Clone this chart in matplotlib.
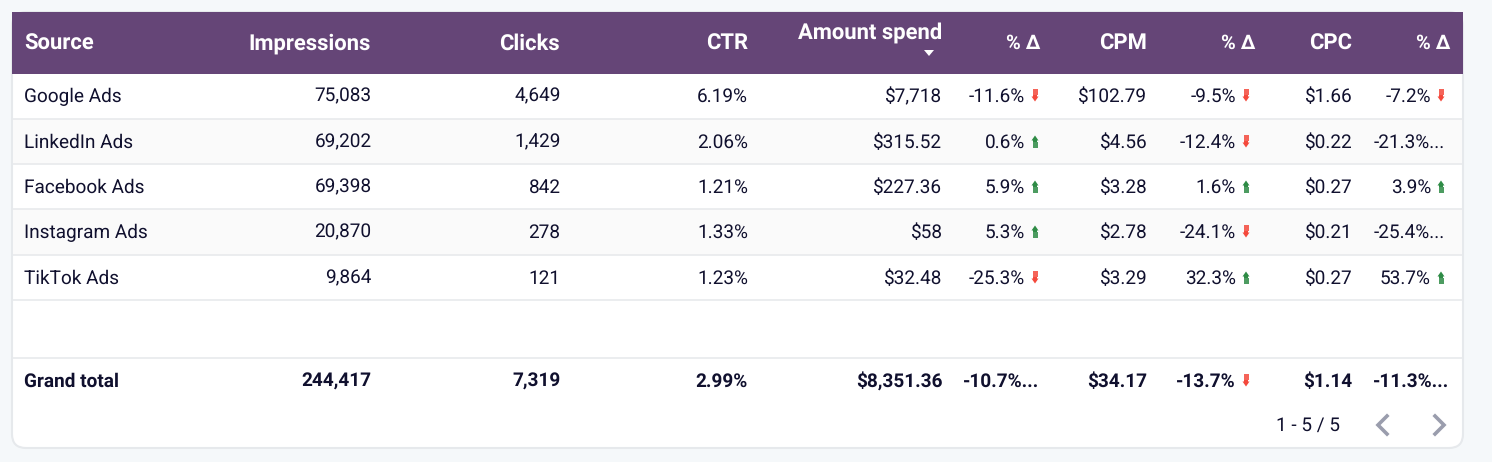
import matplotlib
matplotlib.use("Agg")
import matplotlib.pyplot as plt
from matplotlib.patches import FancyBboxPatch, Rectangle, Polygon

plt.rcParams['font.family'] = ['Roboto', 'DejaVu Sans']
plt.rcParams['text.hinting'] = 'no_hinting'
plt.rcParams['text.hinting_factor'] = 1

# table contents
headers = ["Source", "Impressions", "Clicks", "CTR", "Amount spend", "% Δ", "CPM", "% Δ", "CPC", "% Δ"]
sources = ["Google Ads", "LinkedIn Ads", "Facebook Ads", "Instagram Ads", "TikTok Ads"]
impressions = ["75,083", "69,202", "69,398", "20,870", "9,864"]
clicks = ["4,649", "1,429", "842", "278", "121"]
ctr = ["6.19%", "2.06%", "1.21%", "1.33%", "1.23%"]
spend = ["$7,718", "$315.52", "$227.36", "$58", "$32.48"]
spend_delta = ["-11.6%", "0.6%", "5.9%", "5.3%", "-25.3%"]
cpm = ["$102.79", "$4.56", "$3.28", "$2.78", "$3.29"]
cpm_delta = ["-9.5%", "-12.4%", "1.6%", "-24.1%", "32.3%"]
cpc = ["$1.66", "$0.22", "$0.27", "$0.21", "$0.27"]
cpc_delta = ["-7.2%", "-21.3%...", "3.9%", "-25.4%...", "53.7%"]
totals = ["Grand total", "244,417", "7,319", "2.99%", "$8,351.36", "-10.7%...", "$34.17", "-13.7%", "$1.14", "-11.3%..."]
pager = "1 - 5 / 5"

columns = [sources, impressions, clicks, ctr, spend, spend_delta, cpm, cpm_delta, cpc, cpc_delta]

# layout in pixels
col_right = [24.5, 371.5, 560.5, 748, 942.5, 1025, 1147.5, 1236, 1352.5, 1431]
head_right = [24.5, 371, 560, 748, 942, 1040, 1147, 1255, 1352, 1450]
row_y = [96.5, 142.5, 187.5, 232.5, 278.5]
row_lines = [119, 164, 209, 255, 300, 358]
delta_cols = [5, 7, 9]

PURPLE = "#654577"
INK = "#10102e"
RED = "#f4493c"
GREEN = "#2e8b45"

fig = plt.figure(figsize=(14.92, 4.62), dpi=100, facecolor="#f5f8fa")
ax = fig.add_axes([0, 0, 1, 1])
ax.set_xlim(0, 1492)
ax.set_ylim(462, 0)
ax.axis("off")


def arrow(x, y, color, up):
    # little striped arrow next to the delta values
    s = -1 if up else 1
    for off in [-5.5, -3.5, -1.5]:
        ax.add_patch(Rectangle((x - 2.5, y + s * off - 0.7), 5, 1.4, color=color, lw=0, alpha=0.85, zorder=4))
    ax.add_patch(Rectangle((x - 2, y + s * 0.5 - 1), 4, 2, color=color, lw=0, zorder=4))
    ax.add_patch(Polygon([(x - 3.5, y + s * 1), (x + 3.5, y + s * 1), (x, y + s * 6)], color=color, lw=0, zorder=4))


# card
ax.add_patch(FancyBboxPatch((12, 12), 1451, 436, boxstyle="round,pad=0,rounding_size=14",
                            fc="white", ec="#e6e9ec", lw=1.5, zorder=1))
ax.add_patch(Rectangle((12, 12), 1451, 62, color=PURPLE, lw=0, zorder=2))

# striped rows
for top, bottom in [(119, 164), (209, 255)]:
    ax.add_patch(Rectangle((13, top), 1449, bottom - top, color="#fafafa", lw=0, zorder=1.5))
for y in row_lines:
    ax.plot([13, 1462], [y, y], color="#e8eaec", lw=1.2, zorder=2, solid_capstyle="butt")

# header
for i, name in enumerate(headers):
    ha = "left" if i == 0 else "right"
    y = 32.5 if name == "Amount spend" else 43.5
    size = 14.6 if name == "% Δ" else 15.7
    ax.text(head_right[i], y, name, color="white", fontsize=size, fontweight="bold", ha=ha, va="center", zorder=5)
ax.add_patch(Polygon([(924, 50), (934, 50), (929, 56)], color="white", lw=0, zorder=5))

# body
for c, col in enumerate(columns):
    ha = "left" if c == 0 else "right"
    for r, val in enumerate(col):
        x = col_right[c]
        if val.endswith("..."):
            x = head_right[c] - 5
        ax.text(x, row_y[r], val, color=INK, fontsize=13.4, ha=ha, va="center", zorder=5)
        if c in delta_cols and not val.endswith("..."):
            up = not val.startswith("-")
            arrow(x + 10, row_y[r] - 1, GREEN if up else RED, up)

# totals
for c, val in enumerate(totals):
    ha = "left" if c == 0 else "right"
    x = col_right[c]
    if val.endswith("..."):
        x = head_right[c] - 1
    ax.text(x, 381.5, val, color=INK, fontsize=13.9, fontweight="bold", ha=ha, va="center", zorder=5)
    if c in delta_cols and not val.endswith("..."):
        arrow(x + 10, 380.5, RED, False)

# pager
ax.text(1340, 425.5, pager, color=INK, fontsize=13.4, ha="right", va="center", zorder=5)
ax.plot([1387, 1378, 1387], [416, 425, 434], color="#9a9dad", lw=2.6, zorder=5, solid_joinstyle="miter")
ax.plot([1435, 1444, 1435], [416, 425, 434], color="#9a9dad", lw=2.6, zorder=5, solid_joinstyle="miter")

fig.savefig("out.png", dpi=100, facecolor=fig.get_facecolor())
